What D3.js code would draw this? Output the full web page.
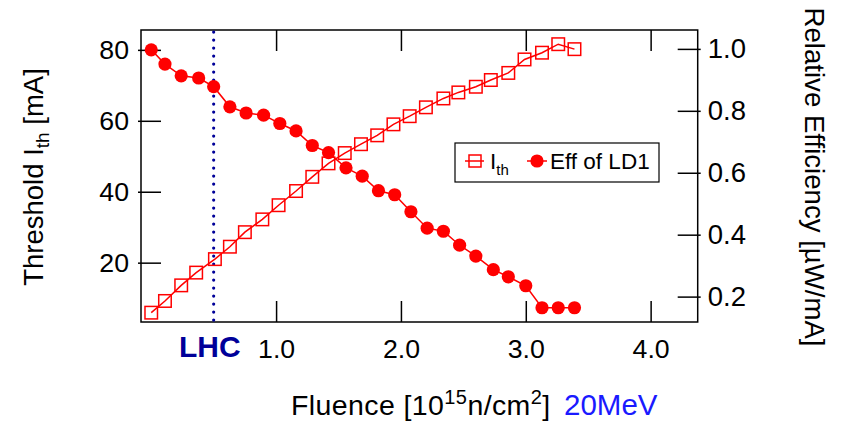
<!DOCTYPE html>
<html>
<head>
<meta charset="utf-8">
<script src="https://cdn.jsdelivr.net/npm/d3@7"></script>
<style>
  body { margin: 0; background: #fff; }
  svg text { font-family: "Liberation Sans", Arial, sans-serif; }
</style>
</head>
<body>
<div id="chart"></div>
<script>
// fluence in 1e15 n/cm^2 (20 MeV)
const fluenceIth = [0.00, 0.11, 0.24, 0.36, 0.51, 0.63, 0.75, 0.89, 1.02, 1.16, 1.29, 1.42, 1.55, 1.68, 1.81, 1.94, 2.07, 2.20, 2.34, 2.46, 2.60, 2.72, 2.86, 2.99, 3.13, 3.26, 3.39];
const ith = [5.9, 9.2, 13.6, 17.2, 21.0, 24.5, 28.6, 32.2, 36.2, 40.2, 44.2, 48.0, 50.9, 53.4, 55.9, 59.0, 61.3, 63.8, 66.3, 68.0, 69.6, 71.5, 73.5, 77.3, 79.2, 81.6, 80.2];

const fluenceEff = [0.00, 0.11, 0.24, 0.38, 0.50, 0.63, 0.76, 0.90, 1.03, 1.16, 1.29, 1.42, 1.56, 1.69, 1.82, 1.95, 2.08, 2.21, 2.34, 2.47, 2.60, 2.74, 2.86, 3.00, 3.13, 3.26, 3.39];
const eff = [0.997, 0.951, 0.913, 0.906, 0.878, 0.813, 0.793, 0.786, 0.759, 0.735, 0.688, 0.665, 0.616, 0.589, 0.542, 0.529, 0.474, 0.421, 0.411, 0.366, 0.331, 0.287, 0.264, 0.235, 0.164, 0.164, 0.164];

const xTicks = [1, 2, 3, 4];
const leftTicks = [20, 40, 60, 80];
const rightTicks = [0.2, 0.4, 0.6, 0.8, 1.0];
const lhcFluence = 0.5;

const W = 843, H = 423;
const m = { top: 30, right: 145.3, bottom: 101, left: 141 };
const red = '#ff0000';

const svg = d3.select('#chart').append('svg')
    .attr('width', W)
    .attr('height', H);

const x = d3.scaleLinear().domain([-0.082, 4.377]).range([m.left, W - m.right]);
const yL = d3.scaleLinear().domain([3.27, 85.6]).range([H - m.bottom, m.top]);
const yR = d3.scaleLinear().domain([0.118, 1.061]).range([H - m.bottom, m.top]);

const fs = 26.7;

// axes (ticks pointing into the plot)
const gx = svg.append('g')
    .attr('transform', `translate(0,${H - m.bottom})`)
    .call(d3.axisBottom(x).tickValues(xTicks).tickSize(-21).tickPadding(17.5).tickFormat(d3.format('.1f')));
const gxTop = svg.append('g')
    .attr('transform', `translate(0,${m.top})`)
    .call(d3.axisTop(x).tickValues(xTicks).tickSize(-21).tickFormat(''));
const gl = svg.append('g')
    .attr('transform', `translate(${m.left},0)`)
    .call(d3.axisLeft(yL).tickValues(leftTicks).tickSize(-20).tickPadding(12));
const glOut = svg.append('g')
    .attr('transform', `translate(${m.left},0)`)
    .call(d3.axisLeft(yL).tickValues(leftTicks).tickSize(3).tickFormat(''));
const gr = svg.append('g')
    .attr('transform', `translate(${W - m.right},0)`)
    .call(d3.axisRight(yR).tickValues(rightTicks).tickSize(-20).tickPadding(10).tickFormat(d3.format('.1f')));
const grOut = svg.append('g')
    .attr('transform', `translate(${W - m.right},0)`)
    .call(d3.axisRight(yR).tickValues(rightTicks).tickSize(3).tickFormat(''));

[gx, gxTop, gl, glOut, gr, grOut].forEach(g => {
    g.select('.domain').remove();
    g.selectAll('line').attr('stroke', '#000').attr('stroke-width', 1.5);
    g.selectAll('text').attr('fill', '#000').attr('font-size', fs)
        .attr('font-family', '"Liberation Sans", Arial, sans-serif');
});
gr.selectAll('text').attr('font-size', 27.5);

// frame
svg.append('rect')
    .attr('x', m.left).attr('y', m.top)
    .attr('width', W - m.left - m.right).attr('height', H - m.top - m.bottom)
    .attr('fill', 'none').attr('stroke', '#000').attr('stroke-width', 1.5);

// LHC dotted line
svg.append('line')
    .attr('x1', x(lhcFluence)).attr('x2', x(lhcFluence))
    .attr('y1', m.top + 2).attr('y2', H - m.bottom + 4)
    .attr('stroke', '#000099').attr('stroke-width', 3.2)
    .attr('stroke-linecap', 'round').attr('stroke-dasharray', '0.1 7.9');

// Ith series
const ithData = fluenceIth.map((f, i) => ({ f, v: ith[i] }));
const effData = fluenceEff.map((f, i) => ({ f, v: eff[i] }));

svg.append('path')
    .datum(ithData)
    .attr('fill', 'none').attr('stroke', red).attr('stroke-width', 1.5)
    .attr('d', d3.line().x(d => x(d.f)).y(d => yL(d.v)));

const sq = 12.5;
svg.append('g').selectAll('rect')
    .data(ithData)
    .join('rect')
    .attr('x', d => x(d.f) - sq / 2).attr('y', d => yL(d.v) - sq / 2)
    .attr('width', sq).attr('height', sq)
    .attr('fill', 'none').attr('stroke', red).attr('stroke-width', 1.5);

// Eff series
svg.append('path')
    .datum(effData)
    .attr('fill', 'none').attr('stroke', red).attr('stroke-width', 1.5)
    .attr('d', d3.line().x(d => x(d.f)).y(d => yR(d.v)));

svg.append('g').selectAll('circle')
    .data(effData)
    .join('circle')
    .attr('cx', d => x(d.f)).attr('cy', d => yR(d.v))
    .attr('r', 6.6)
    .attr('fill', red);

// legend
const lg = svg.append('g').attr('transform', 'translate(455,143)');
lg.append('rect').attr('width', 204).attr('height', 39)
    .attr('fill', '#fff').attr('stroke', '#000').attr('stroke-width', 1.2);
lg.append('line').attr('x1', 10).attr('x2', 29).attr('y1', 18).attr('y2', 18)
    .attr('stroke', red).attr('stroke-width', 1.5);
lg.append('rect').attr('x', 14).attr('y', 12).attr('width', 12).attr('height', 12)
    .attr('fill', 'none').attr('stroke', red).attr('stroke-width', 1.5);
const t1 = lg.append('text').attr('x', 35).attr('y', 26).attr('font-size', 22.5);
t1.append('tspan').text('I');
t1.append('tspan').text('th').attr('font-size', 15).attr('dy', 6);
lg.append('line').attr('x1', 72).attr('x2', 92).attr('y1', 18).attr('y2', 18)
    .attr('stroke', red).attr('stroke-width', 1.5);
lg.append('circle').attr('cx', 82).attr('cy', 18).attr('r', 6.6).attr('fill', red);
lg.append('text').attr('x', 95).attr('y', 26).attr('font-size', 22.5).text('Eff of LD1');

// axis titles
const lt = svg.append('text')
    .attr('transform', `translate(43,177) rotate(-90)`)
    .attr('text-anchor', 'middle').attr('font-size', 27.5).attr('fill', '#000');
lt.append('tspan').text('Threshold I');
lt.append('tspan').text('th').attr('font-size', 19).attr('dy', 6);
lt.append('tspan').text(' [mA]').attr('dy', -6);

svg.append('text')
    .attr('transform', `translate(805,177) rotate(90)`)
    .attr('text-anchor', 'middle').attr('font-size', 27.6).attr('fill', '#000')
    .text('Relative Efficiency [\u00b5W/mA]');

const bt = svg.append('text')
    .attr('x', 291).attr('y', 415).attr('font-size', 28.5).attr('letter-spacing', 0.4).attr('fill', '#000');
bt.append('tspan').text('Fluence [10');
bt.append('tspan').text('15').attr('font-size', 20).attr('dy', -11);
bt.append('tspan').text('n/cm').attr('dy', 11);
bt.append('tspan').text('2').attr('font-size', 20).attr('dy', -11);
bt.append('tspan').text(']').attr('dy', 11);

svg.append('text')
    .attr('x', 564).attr('y', 415).attr('font-size', 29.5).attr('fill', '#1a1aff')
    .text('20MeV');

svg.append('text')
    .attr('x', 179).attr('y', 357).attr('font-size', 30).attr('font-weight', 'bold')
    .attr('fill', '#000099').text('LHC');
</script>
</body>
</html>
